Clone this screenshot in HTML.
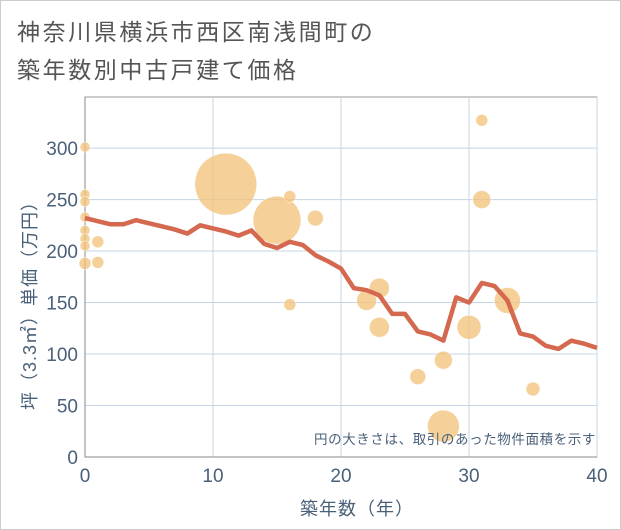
<!DOCTYPE html>
<html><head><meta charset="utf-8"><style>
body{margin:0;background:#fff;}
.wrap{width:619px;height:528px;border:1px solid #ccc;position:relative;overflow:hidden;font-family:"Liberation Sans","Noto Sans CJK JP",sans-serif;}
.title{position:absolute;left:16px;top:12px;font-size:23px;letter-spacing:2.6px;line-height:38px;color:#555;}
</style></head><body>
<div class="wrap">
<div class="title">神奈川県横浜市西区南浅間町の<br>築年数別中古戸建て価格</div>
<svg id="chart" width="621" height="530" style="position:absolute;left:0;top:0"></svg>
</div>
<script>
const lineYears=[0,1,2,3,4,5,6,7,8,9,10,11,12,13,14,15,16,17,18,19,20,21,22,23,24,25,26,27,28,29,30,31,32,33,34,35,36,37,38,39,40];
const lineValues=[232,229,226,226,230,227,224,221,217,225,222,219,215,220,207,203,209,206,196,190,183,164,162,157,139,139,122,119,113,155,150,169,166,152,120,117,108,105,113,110,106];
const bubbleYears=[0,0,0,0,0,0,0,0,1,1,11,15,16,16,18,22,23,23,26,28,28,30,31,31,33,35];
const bubbleValues=[301,255,248,233,220,212,205,188,209,189,265,230,253,148,232,152,164,126,78,94,30,126,327,250,152,66];
const bubbleSizes=[5,5,5,5,5,5,5,6,6,6,31,24,6,6,8,10,10,10,8,9,16,12,6,9,13,7];
const xTicks=[0,10,20,30,40];
const yTicks=[0,50,100,150,200,250,300];
const NS="http://www.w3.org/2000/svg";
const svg=document.getElementById('chart');
const L=84,R=596,T=96,B=456;
const xS=v=>L+(v-0)/40*(R-L);
const yS=v=>B-v*1.0297;
function mk(tag,attrs,parent){const e=document.createElementNS(NS,tag);for(const k in attrs)e.setAttribute(k,attrs[k]);(parent||svg).appendChild(e);return e;}
mk('rect',{x:L,y:T,width:R-L,height:B-T,fill:'#fff',stroke:'#999','stroke-width':1});
xTicks.forEach(t=>{
 const g=mk('line',{x1:xS(t),x2:xS(t),y1:T,y2:B,stroke:'#c5d5e5','stroke-width':1});
 
 
 const tx=mk('text',{x:xS(t),y:B+25,'text-anchor':'middle','font-size':19,fill:'#4a6078'});
 tx.textContent=t;
 
 
});
yTicks.forEach(t=>{
 const g=mk('line',{x1:L,x2:R,y1:yS(t),y2:yS(t),stroke:'#c5d5e5','stroke-width':1});
 
 
 const tx=mk('text',{x:L-7,y:yS(t)+7,'text-anchor':'end','font-size':19,fill:'#4a6078'});
 tx.textContent=t;
 
 
});
mk('line',{x1:L,x2:L,y1:T,y2:B,stroke:'#888','stroke-width':1});
mk('line',{x1:L,x2:R,y1:B,y2:B,stroke:'#888','stroke-width':1});
bubbleYears.forEach((yr,i)=>{
 const c=mk('circle',{cx:xS(yr),cy:yS(bubbleValues[i]),r:bubbleSizes[i],fill:'#f2c277','fill-opacity':0.75,stroke:'#fff','stroke-width':0.5});
 
 
});
const pts=lineYears.map((yr,i)=>xS(yr)+','+yS(lineValues[i])).join(' ');
const pl=mk('polyline',{points:pts,fill:'none',stroke:'#d4694f','stroke-width':4.5,'stroke-linejoin':'round'});


const note=mk('text',{x:595,y:443,'text-anchor':'end','font-size':13.5,'letter-spacing':0.6,fill:'#4a6078'});
note.textContent='円の大きさは、取引のあった物件面積を示す';


const xt=mk('text',{x:356,y:514,'text-anchor':'middle','font-size':18,'letter-spacing':1,fill:'#4a6078'});
xt.textContent='築年数（年）';


const yt=mk('text',{x:0,y:0,'text-anchor':'middle','font-size':18,'letter-spacing':1,fill:'#4a6078',transform:'translate(35,300) rotate(-90)'});
yt.textContent='坪（3.3㎡）単価（万円）';


</script>
</body></html>
